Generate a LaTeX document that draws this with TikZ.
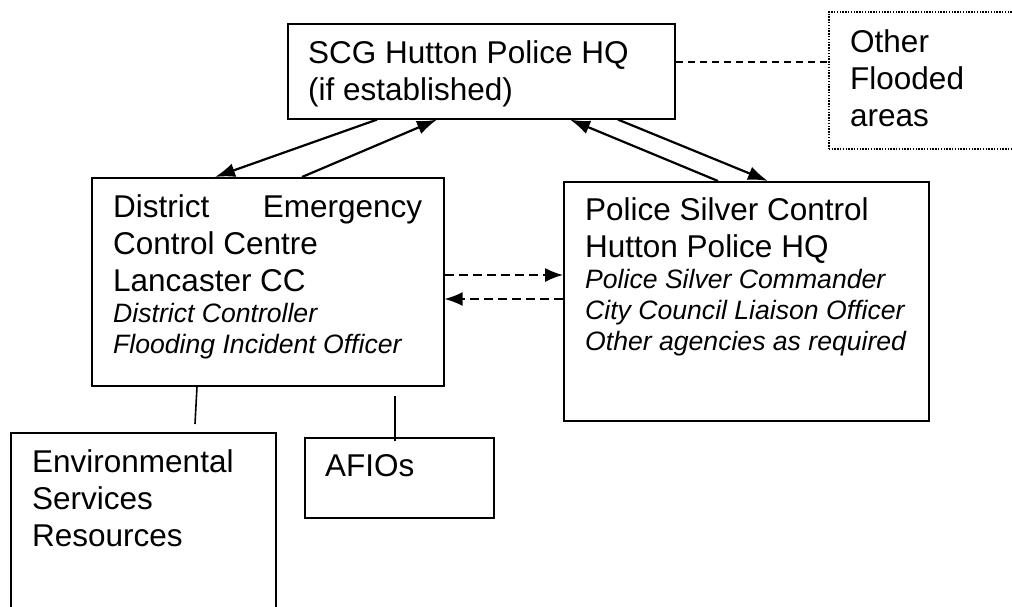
\documentclass[tikz,border=0pt]{standalone}
\usepackage{fontspec}
\setmainfont{Liberation Sans}
\usetikzlibrary{arrows.meta,positioning}
\newcommand{\rolefont}{\fontsize{26.6pt}{31pt}\selectfont\itshape}

\begin{document}
\begin{tikzpicture}[x=1pt,y=-1pt,
    frame/.style={draw,line width=1.6pt,anchor=north west,inner sep=0pt},
    boxtext/.style={anchor=north west,inner sep=0pt,align=flush left,
      font=\fontsize{31.5pt}{37pt}\selectfont},
    link/.style={line width=2.2pt,-{Latex[length=20pt,width=14pt]}},
    flow/.style={line width=1.6pt,dash pattern=on 9pt off 5pt,
      -{Latex[length=18pt,width=14pt]}}]
  \clip (0,0) rectangle (1012,606);

  % boxes
  \node[frame,minimum width=387pt,minimum height=95pt] (scg) at (287,23) {};
  \node[frame,dash pattern=on 1.4pt off 1.4pt,minimum width=212pt,minimum height=137pt] (other) at (828,11) {};
  \node[frame,minimum width=352pt,minimum height=208pt] (district) at (91,177) {};
  \node[frame,minimum width=365pt,minimum height=239pt] (silver) at (563,181) {};
  \node[frame,minimum width=265pt,minimum height=200pt] (env) at (10,432) {};
  \node[frame,minimum width=189pt,minimum height=80pt] (afio) at (304,437) {};

  % texts
  \node[boxtext,text width=360pt,below right=17pt and 21pt of scg.north west] (scgtext)
    {SCG Hutton Police HQ\\(if established)};
  \node[boxtext,text width=160pt,below right=18pt and 22pt of other.north west] (othertext)
    {Other\\Flooded\\areas};
  \node[boxtext,text width=309pt,below right=17pt and 22pt of district.north west] (districttext)
    {District\hfill Emergency\\Control Centre\\Lancaster CC\par
     {\rolefont District Controller\\Flooding Incident Officer\par}};
  \node[boxtext,text width=340pt,below right=16pt and 22pt of silver.north west] (silvertext)
    {Police Silver Control\\Hutton Police HQ\par
     {\rolefont Police Silver Commander\\City Council Liaison Officer\\Other agencies as required\par}};
  \node[boxtext,text width=230pt,below right=17pt and 22pt of env.north west] (envtext)
    {Environmental\\Services\\Resources};
  \node[boxtext,text width=150pt,below right=17pt and 21pt of afio.north west] (afiotext)
    {AFIOs};

  % links to and from SCG
  \draw[link] ([xshift=90pt]scg.south west) -- ([xshift=124pt]district.north west);
  \draw[link] ([xshift=211pt]district.north west) -- ([xshift=150pt]scg.south west);
  \draw[link] ([xshift=155pt]silver.north west) -- ([xshift=283pt]scg.south west);
  \draw[link] ([xshift=331pt]scg.south west) -- ([xshift=205pt]silver.north west);
  \draw[line width=1.4pt,dash pattern=on 7pt off 5pt] ([yshift=-39pt]scg.north east) -- ([yshift=-51pt]other.north west);

  % district <-> silver
  \draw[flow] ([yshift=-98pt]district.north east) -- ([yshift=-94pt]silver.north west);
  \draw[flow] ([yshift=-118pt]silver.north west) -- ([yshift=-122pt]district.north east);

  % resources
  \coordinate (envtop) at (195,424);
  \coordinate (afiotop) at (395,396);
  \draw[line width=1.6pt] ([xshift=106pt]district.south west) -- (envtop);
  \draw[line width=1.6pt] (afiotop) -- ([xshift=91pt,yshift=-4pt]afio.north west);
\end{tikzpicture}
\end{document}
